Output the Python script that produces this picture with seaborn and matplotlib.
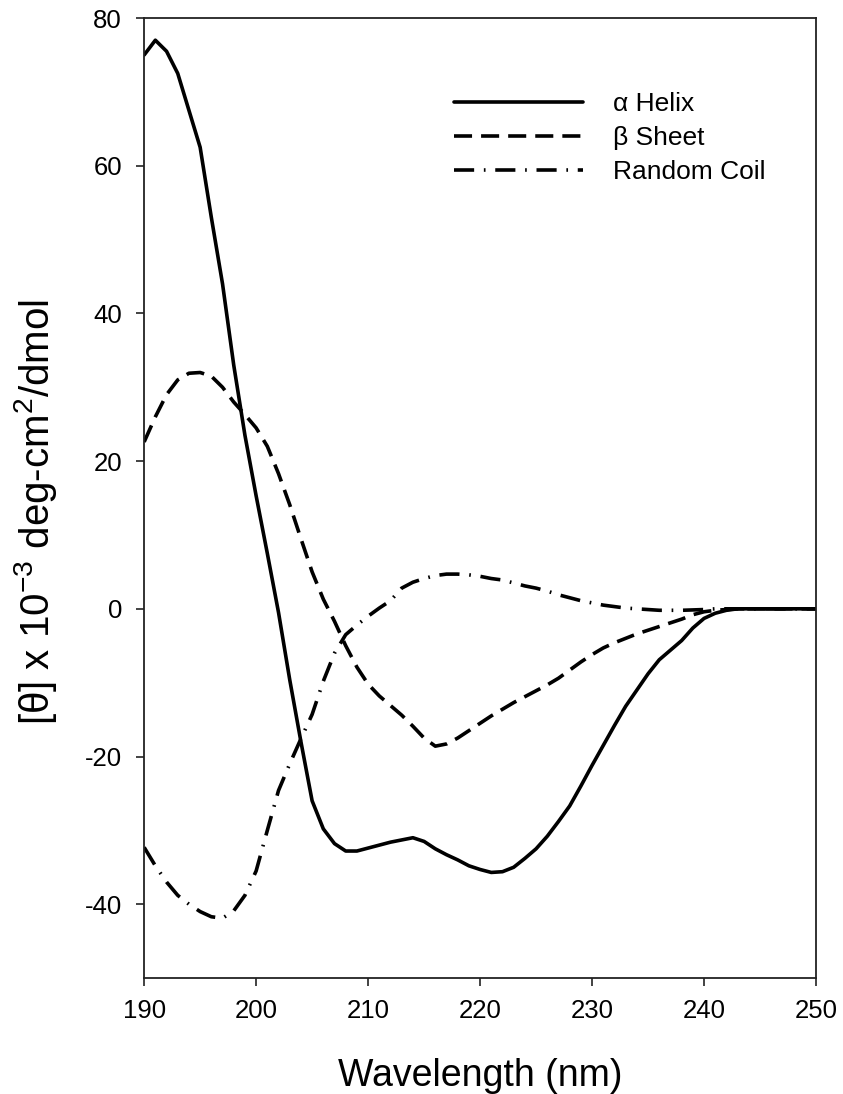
import numpy as np
import pandas as pd
import matplotlib
matplotlib.use("Agg")
import matplotlib.pyplot as plt
import seaborn as sns

# Wavelength grid (nm)
wavelength = list(range(190, 251))

# Mean residue ellipticity, x 10^-3 deg cm^2 / dmol
alpha_helix = [75.0, 77.0, 75.5, 72.5, 67.5, 62.5, 53.0, 44.0, 33.0, 23.5,
               15.3, 7.5, -0.5, -9.6, -18.0, -26.0, -29.8, -31.8, -32.8, -32.8,
               -32.4, -32.0, -31.6, -31.3, -31.0, -31.5, -32.5, -33.3, -34.0, -34.8,
               -35.3, -35.7, -35.6, -35.0, -33.8, -32.5, -30.8, -28.8, -26.7, -24.0,
               -21.2, -18.5, -15.8, -13.2, -11.0, -8.8, -6.9, -5.6, -4.3, -2.6,
               -1.3, -0.6, -0.2, 0.0, 0.0, 0.0, 0.0, 0.0, 0.0, 0.0, 0.0]
beta_sheet = [22.6, 26.0, 29.0, 31.0, 31.9, 32.0, 31.5, 30.0, 28.0, 26.3,
              24.5, 22.0, 18.3, 14.1, 9.5, 5.0, 1.3, -1.7, -5.0, -7.9,
              -10.2, -11.8, -13.1, -14.4, -15.9, -17.5, -18.6, -18.3, -17.5, -16.5,
              -15.5, -14.5, -13.6, -12.7, -11.9, -11.1, -10.3, -9.4, -8.3, -7.2,
              -6.2, -5.3, -4.6, -4.0, -3.4, -2.9, -2.4, -1.9, -1.4, -0.8,
              -0.4, -0.2, -0.1, 0.0, 0.0, 0.0, 0.0, 0.0, 0.0, 0.0, 0.0]
random_coil = [-32.3, -34.8, -37.0, -38.8, -40.0, -41.0, -41.7, -41.9, -40.9, -38.8,
               -35.5, -30.0, -24.6, -21.0, -17.6, -14.3, -9.8, -6.0, -3.5, -2.2,
               -1.0, 0.1, 1.1, 2.8, 3.6, 4.1, 4.5, 4.7, 4.7, 4.6,
               4.4, 4.1, 3.9, 3.5, 3.1, 2.8, 2.4, 1.9, 1.5, 1.1,
               0.8, 0.5, 0.3, 0.1, 0.0, -0.1, -0.2, -0.2, -0.2, -0.15,
               -0.1, 0.0, 0.0, 0.0, 0.0, 0.0, 0.0, 0.0, 0.0, 0.0, 0.0]

series_labels = ["\u03b1 Helix", "\u03b2 Sheet", "Random Coil"]
y_ticks = [-40, -20, 0, 20, 40, 60, 80]
x_ticks = [190, 200, 210, 220, 230, 240, 250]

sns.set_style("ticks")
plt.rcParams["font.family"] = ["Liberation Sans", "DejaVu Sans"]
plt.rcParams["axes.unicode_minus"] = False
plt.rcParams["mathtext.default"] = "regular"
plt.rcParams["lines.scale_dashes"] = False
plt.rcParams["text.color"] = "black"
plt.rcParams["axes.labelcolor"] = "black"
plt.rcParams["xtick.color"] = "black"
plt.rcParams["ytick.color"] = "black"

fig = plt.figure(figsize=(8.43, 10.94), dpi=100)
ax = fig.add_axes([0.171, 0.106, 0.797, 0.8775])

styles = ["-", (0, (13, 6.5)), (0, (14.5, 7, 1.2, 7))]
for vals, lab, ls in zip([alpha_helix, beta_sheet, random_coil], series_labels, styles):
    df = pd.DataFrame({"wl": wavelength, "theta": vals})
    sns.lineplot(data=df, x="wl", y="theta", ax=ax, color="black",
                 linewidth=2.6, linestyle=ls, label=lab)

ax.set_xlim(190, 250)
ax.set_ylim(-50, 80)
ax.set_xticks(x_ticks)
ax.set_yticks(y_ticks)
ax.tick_params(axis="both", labelsize=18.5, direction="out", length=6, width=1.2,
               color="#222222")
ax.tick_params(axis="y", pad=10)
ax.tick_params(axis="x", pad=9)
for s in ax.spines.values():
    s.set_linewidth(1.3)
    s.set_color("#222222")

ax.set_xlabel("Wavelength (nm)", fontsize=27, labelpad=25)
ax.set_ylabel("[\u03b8] x 10$^{-3}$ deg-cm$^{2}$/dmol", fontsize=29)
ax.yaxis.set_label_coords(-0.127, 0.485)

leg = ax.legend(loc="upper left", bbox_to_anchor=(0.445, 0.934), frameon=False,
                fontsize=19, handlelength=4.9, handletextpad=1.15, labelspacing=0.38,
                borderaxespad=0)

fig.savefig("out.png", dpi=100)
